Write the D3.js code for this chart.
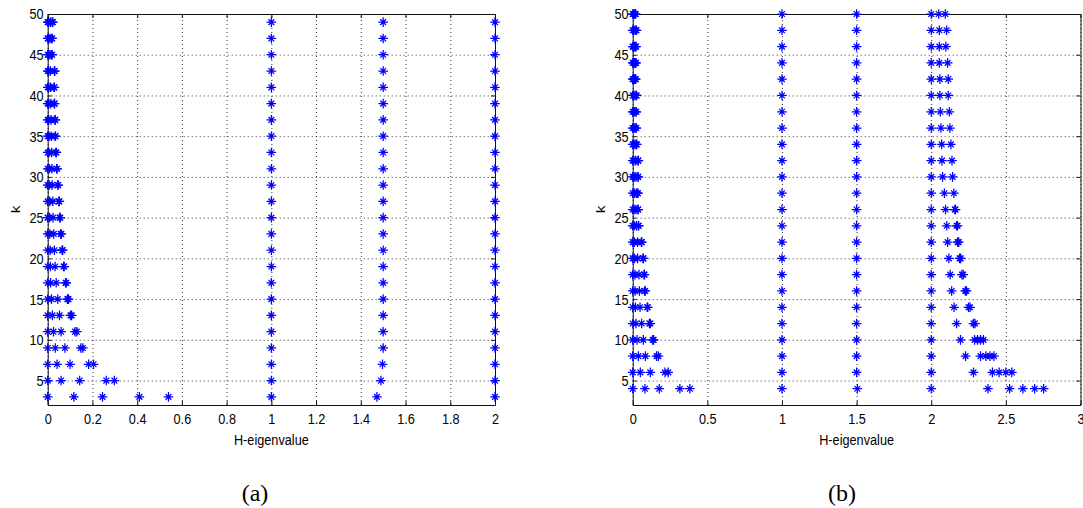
<!DOCTYPE html>
<html>
<head>
<meta charset="utf-8">
<script src="https://cdn.jsdelivr.net/npm/d3@7"></script>
<style>
  body { margin: 0; background: #fff; }
  svg text { font-family: "Liberation Sans", Arial, sans-serif; fill: #000; }
  .caption { font-family: "Liberation Serif", "DejaVu Serif", serif; }
</style>
</head>
<body>
<div id="chart"></div>
<script>
// H-eigenvalues against k, two panels (a) and (b)

// Panel (a): odd k, every eigenvalue found for that k
const kA = [3, 5, 7, 9, 11, 13, 15, 17, 19, 21, 23, 25, 27, 29, 31, 33, 35, 37, 39, 41, 43, 45, 47, 49];
const eigA = [
  [0, 0.117, 0.245, 0.41, 0.54, 1, 1.472, 2],
  [0, 0.06, 0.143, 0.262, 0.298, 1, 1.49, 2],
  [0, 0.042, 0.1, 0.183, 0.205, 1, 1.497, 2],
  [0, 0.034, 0.077, 0.148, 0.157, 1, 1.5, 2],
  [0, 0.026, 0.06, 0.122, 0.13, 1, 1.5, 2],
  [0, 0.021, 0.053, 0.102, 0.107, 1, 1.5, 2],
  [0, 0.017, 0.045, 0.088, 0.093, 1, 1.5, 2],
  [0, 0.013, 0.038, 0.08, 0.083, 1, 1.5, 2],
  [0, 0.012, 0.033, 0.071, 0.074, 1, 1.5, 2],
  [0, 0.011, 0.03, 0.064, 0.067, 1, 1.5, 2],
  [0, 0.009, 0.027, 0.058, 0.061, 1, 1.5, 2],
  [0, 0.008, 0.024, 0.053, 0.056, 1, 1.5, 2],
  [0, 0.009, 0.023, 0.05, 0.052, 1, 1.5, 2],
  [0, 0.007, 0.02, 0.045, 0.047, 1, 1.5, 2],
  [0, 0.007, 0.019, 0.04, 0.042, 1, 1.5, 2],
  [0, 0.006, 0.018, 0.036, 0.039, 1, 1.5, 2],
  [0, 0.006, 0.016, 0.033, 0.035, 1, 1.5, 2],
  [0, 0.005, 0.015, 0.032, 0.034, 1, 1.5, 2],
  [0, 0.005, 0.014, 0.029, 0.031, 1, 1.5, 2],
  [0, 0.005, 0.013, 0.028, 0.03, 1, 1.5, 2],
  [0, 0.004, 0.012, 0.03, 0.032, 1, 1.5, 2],
  [0, 0.004, 0.01, 0.018, 0.02, 1, 1.5, 2],
  [0, 0.003, 0.01, 0.018, 0.02, 1, 1.5, 2],
  [0, 0.004, 0.012, 0.02, 0.023, 1, 1.5, 2]
];

// Panel (b): even k
const kB = [4, 6, 8, 10, 12, 14, 16, 18, 20, 22, 24, 26, 28, 30, 32, 34, 36, 38, 40, 42, 44, 46, 48, 50];
const eigB = [
  [0, 0.082, 0.178, 0.316, 0.383, 1, 1.505, 2, 2.38, 2.525, 2.614, 2.693, 2.753],
  [0, 0.051, 0.118, 0.216, 0.238, 1, 1.5, 2, 2.283, 2.41, 2.455, 2.5, 2.54],
  [0, 0.038, 0.085, 0.16, 0.172, 1, 1.5, 2, 2.23, 2.33, 2.366, 2.393, 2.42],
  [0, 0.029, 0.071, 0.134, 0.14, 1, 1.5, 2, 2.196, 2.29, 2.31, 2.33, 2.35],
  [0, 0.022, 0.06, 0.112, 0.118, 1, 1.5, 2, 2.17, 2.283, 2.293],
  [0, 0.018, 0.049, 0.097, 0.101, 1, 1.5, 2, 2.153, 2.25, 2.26],
  [0, 0.016, 0.045, 0.08, 0.084, 1, 1.5, 2, 2.137, 2.228, 2.236],
  [0, 0.015, 0.042, 0.076, 0.079, 1, 1.5, 2, 2.127, 2.206, 2.214],
  [0, 0.011, 0.033, 0.069, 0.072, 1, 1.5, 2, 2.118, 2.19, 2.197],
  [0, 0.011, 0.033, 0.058, 0.061, 1, 1.5, 2, 2.11, 2.177, 2.184],
  [0, 0.01, 0.025, 0.038, 0.04, 1, 1.5, 2, 2.104, 2.17, 2.176],
  [0, 0.01, 0.022, 0.035, 0.037, 1, 1.5, 2, 2.096, 2.158, 2.163],
  [0, 0.012, 0.025, 0.033, 0.035, 1, 1.5, 2, 2.088, 2.152],
  [0, 0.01, 0.022, 0.035, 0.037, 1, 1.5, 2, 2.076, 2.143],
  [0, 0.008, 0.02, 0.035, 0.038, 1, 1.5, 2, 2.072, 2.139],
  [0, 0.007, 0.016, 0.025, 0.027, 1, 1.5, 2, 2.07, 2.132],
  [0, 0.006, 0.014, 0.022, 0.024, 1, 1.5, 2, 2.065, 2.125],
  [0, 0.006, 0.014, 0.022, 0.024, 1, 1.5, 2, 2.061, 2.121],
  [0, 0.007, 0.016, 0.024, 0.026, 1, 1.5, 2, 2.058, 2.114],
  [0, 0.005, 0.012, 0.018, 0.02, 1, 1.5, 2, 2.058, 2.114],
  [0, 0.006, 0.013, 0.02, 0.022, 1, 1.5, 2, 2.054, 2.11],
  [0, 0.006, 0.013, 0.02, 0.022, 1, 1.5, 2, 2.054, 2.098],
  [0, 0.007, 0.016, 0.023, 0.025, 1, 1.5, 2, 2.054, 2.103],
  [0, 0.005, 0.012, 0.018, 0.02, 1, 1.5, 2, 2.05, 2.094]
];

const xTicksA = [0, 0.2, 0.4, 0.6, 0.8, 1, 1.2, 1.4, 1.6, 1.8, 2];
const xTicksB = [0, 0.5, 1, 1.5, 2, 2.5, 3];
const yTicks = [5, 10, 15, 20, 25, 30, 35, 40, 45, 50];
const yDomain = [2, 50];

const W = 1083, H = 508;
const squeeze = 'scale(0.82,1)';   // MATLAB's narrow tick font

const svg = d3.select('#chart').append('svg')
    .attr('width', W)
    .attr('height', H);

// MATLAB '*' marker: a plus with shorter diagonals
function starPath(r) {
    const d = r * 0.6;
    return `M${-r},0H${r}M0,${-r}V${r}M${-d},${-d}L${d},${d}M${-d},${d}L${d},${-d}`;
}

function drawPanel(p) {
    const x = d3.scaleLinear().domain(p.xDomain).range([p.left, p.right]);
    const y = d3.scaleLinear().domain(yDomain).range([p.bottom, p.top]);
    const g = svg.append('g');

    // dotted grid
    g.append('g')
        .attr('transform', `translate(0,${p.bottom})`)
        .call(d3.axisBottom(x).tickValues(p.xTicks).tickSize(-(p.bottom - p.top)).tickFormat(''))
        .call(s => s.select('.domain').remove())
        .selectAll('line')
        .attr('stroke', '#000')
        .attr('stroke-width', 0.8)
        .attr('stroke-dasharray', '1,3');
    g.append('g')
        .attr('transform', `translate(${p.left},0)`)
        .call(d3.axisLeft(y).tickValues(yTicks).tickSize(-(p.right - p.left)).tickFormat(''))
        .call(s => s.select('.domain').remove())
        .selectAll('line')
        .attr('stroke', '#000')
        .attr('stroke-width', 0.8)
        .attr('stroke-dasharray', '1,3');

    // box with inward ticks
    const bottomAxis = g.append('g')
        .attr('transform', `translate(0,${p.bottom})`)
        .call(d3.axisBottom(x).tickValues(p.xTicks).tickSizeInner(-4).tickSizeOuter(0)
            .tickPadding(8).tickFormat(d3.format('')));
    const leftAxis = g.append('g')
        .attr('transform', `translate(${p.left},0)`)
        .call(d3.axisLeft(y).tickValues(yTicks).tickSizeInner(-4).tickSizeOuter(0)
            .tickPadding(5).tickFormat(d3.format('')));
    g.append('g')
        .attr('transform', `translate(0,${p.top})`)
        .call(d3.axisTop(x).tickValues(p.xTicks).tickSizeInner(-4).tickSizeOuter(0).tickFormat(''));
    g.append('g')
        .attr('transform', `translate(${p.right},0)`)
        .call(d3.axisRight(y).tickValues(yTicks).tickSizeInner(-4).tickSizeOuter(0).tickFormat(''));

    g.selectAll('.domain, .tick line:not([stroke-dasharray])')
        .attr('stroke', '#111');
    [bottomAxis, leftAxis].forEach(a => a.selectAll('text')
        .attr('font-size', 15.5)
        .attr('font-family', '"Liberation Sans", Arial, sans-serif')
        .attr('fill', '#111')
        .attr('transform', squeeze));

    // axis titles
    g.append('text')
        .attr('transform', `translate(${(p.left + p.right) / 2},445) ${squeeze}`)
        .attr('text-anchor', 'middle')
        .attr('font-size', 15.5)
        .attr('fill', '#111')
        .text('H-eigenvalue');
    g.append('text')
        .attr('transform', `translate(${p.left - 28},${(p.top + p.bottom) / 2}) rotate(-90) scale(1,0.82)`)
        .attr('text-anchor', 'middle')
        .attr('font-size', 15.5)
        .attr('fill', '#111')
        .text('k');

    // points
    const pts = [];
    p.ks.forEach((k, i) => p.eig[i].forEach(v => pts.push({ k, v })));
    g.append('g').selectAll('path')
        .data(pts)
        .enter()
        .append('path')
        .attr('transform', d => `translate(${x(d.v)},${y(d.k)})`)
        .attr('d', starPath(4.8))
        .attr('fill', 'none')
        .attr('stroke', '#0000ff')
        .attr('stroke-width', 1.25);

    // caption
    svg.append('text')
        .attr('class', 'caption')
        .attr('x', p.captionX)
        .attr('y', 501)
        .attr('text-anchor', 'middle')
        .attr('font-size', 24)
        .text(p.caption);
}

drawPanel({
    xDomain: [0, 2], xTicks: xTicksA, ks: kA, eig: eigA,
    left: 47.7, right: 495, top: 14, bottom: 405,
    caption: '(a)', captionX: 255
});
drawPanel({
    xDomain: [0, 3], xTicks: xTicksB, ks: kB, eig: eigB,
    left: 632.7, right: 1080.5, top: 14, bottom: 405,
    caption: '(b)', captionX: 842
});
</script>
</body>
</html>
